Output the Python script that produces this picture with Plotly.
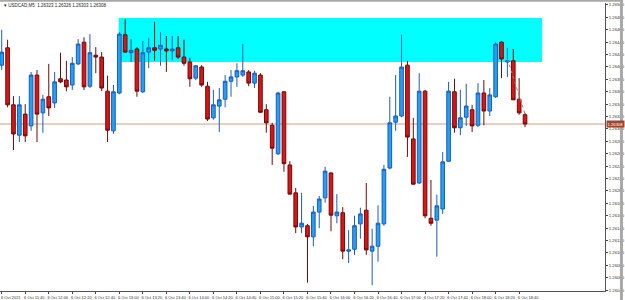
import plotly.graph_objects as go

symbol = "USDCAD,M5"

open_ = [1.26403, 1.26431, 1.26339, 1.26290, 1.26324, 1.26305, 1.26387, 1.26326, 1.26352, 1.26342,
         1.26381, 1.26379, 1.26371, 1.26405, 1.26440, 1.26369, 1.26419, 1.26416, 1.26361, 1.26297,
         1.26358, 1.26452, 1.26423, 1.26429, 1.26360, 1.26424, 1.26431, 1.26429, 1.26429, 1.26426,
         1.26431, 1.26416, 1.26408, 1.26382, 1.26400, 1.26369, 1.26318, 1.26337, 1.26348, 1.26377,
         1.26384, 1.26387, 1.26392, 1.26374, 1.26387, 1.26331, 1.26306, 1.26260, 1.26360, 1.26242,
         1.26197, 1.26142, 1.26144, 1.26126, 1.26166, 1.26189, 1.26229, 1.26160, 1.26165, 1.26103,
         1.26106, 1.26147, 1.26169, 1.26103, 1.26111, 1.26147, 1.26237, 1.26311, 1.26321, 1.26403,
         1.26284, 1.26213, 1.26361, 1.26156, 1.26153, 1.26171, 1.26248, 1.26360, 1.26302, 1.26319,
         1.26331, 1.26306, 1.26358, 1.26329, 1.26352, 1.26440, 1.26408, 1.26410, 1.26348, 1.26323]

high = [1.26460, 1.26444, 1.26353, 1.26353, 1.26340, 1.26392, 1.26395, 1.26355, 1.26405, 1.26392,
        1.26423, 1.26410, 1.26416, 1.26445, 1.26448, 1.26453, 1.26432, 1.26424, 1.26386, 1.26371,
        1.26456, 1.26477, 1.26445, 1.26432, 1.26442, 1.26447, 1.26473, 1.26456, 1.26450, 1.26450,
        1.26450, 1.26444, 1.26415, 1.26403, 1.26403, 1.26376, 1.26363, 1.26366, 1.26387, 1.26395,
        1.26406, 1.26437, 1.26395, 1.26394, 1.26390, 1.26340, 1.26310, 1.26360, 1.26361, 1.26248,
        1.26205, 1.26197, 1.26147, 1.26176, 1.26192, 1.26239, 1.26231, 1.26195, 1.26174, 1.26137,
        1.26160, 1.26173, 1.26213, 1.26139, 1.26177, 1.26242, 1.26352, 1.26387, 1.26452, 1.26410,
        1.26318, 1.26390, 1.26363, 1.26218, 1.26194, 1.26263, 1.26376, 1.26381, 1.26363, 1.26373,
        1.26339, 1.26374, 1.26379, 1.26366, 1.26440, 1.26442, 1.26431, 1.26429, 1.26382, 1.26326]

low = [1.26395, 1.26335, 1.26266, 1.26279, 1.26279, 1.26297, 1.26279, 1.26294, 1.26321, 1.26334,
       1.26374, 1.26361, 1.26363, 1.26403, 1.26363, 1.26366, 1.26390, 1.26361, 1.26279, 1.26292,
       1.26356, 1.26423, 1.26408, 1.26352, 1.26358, 1.26398, 1.26410, 1.26402, 1.26392, 1.26411,
       1.26413, 1.26402, 1.26368, 1.26379, 1.26368, 1.26313, 1.26315, 1.26295, 1.26335, 1.26352,
       1.26368, 1.26384, 1.26369, 1.26366, 1.26326, 1.26294, 1.26242, 1.26258, 1.26231, 1.26194,
       1.26132, 1.26132, 1.26052, 1.26111, 1.26140, 1.26181, 1.26135, 1.26148, 1.26090, 1.26084,
       1.26097, 1.26123, 1.26097, 1.26048, 1.26086, 1.26144, 1.26235, 1.26297, 1.26319, 1.26255,
       1.26210, 1.26211, 1.26156, 1.26144, 1.26094, 1.26163, 1.26247, 1.26294, 1.26290, 1.26305,
       1.26295, 1.26303, 1.26306, 1.26321, 1.26350, 1.26382, 1.26384, 1.26348, 1.26323, 1.26303]

close = [1.26424, 1.26339, 1.26292, 1.26339, 1.26289, 1.26387, 1.26324, 1.26348, 1.26334, 1.26376,
         1.26376, 1.26368, 1.26406, 1.26437, 1.26368, 1.26423, 1.26416, 1.26366, 1.26298, 1.26360,
         1.26453, 1.26424, 1.26427, 1.26361, 1.26423, 1.26431, 1.26427, 1.26435, 1.26426, 1.26429,
         1.26416, 1.26406, 1.26381, 1.26402, 1.26371, 1.26316, 1.26339, 1.26347, 1.26377, 1.26384,
         1.26394, 1.26394, 1.26374, 1.26390, 1.26327, 1.26310, 1.26269, 1.26358, 1.26244, 1.26195,
         1.26142, 1.26148, 1.26126, 1.26166, 1.26187, 1.26232, 1.26161, 1.26166, 1.26103, 1.26105,
         1.26144, 1.26163, 1.26105, 1.26111, 1.26148, 1.26235, 1.26310, 1.26321, 1.26400, 1.26287,
         1.26211, 1.26361, 1.26160, 1.26148, 1.26176, 1.26247, 1.26361, 1.26302, 1.26318, 1.26337,
         1.26305, 1.26358, 1.26329, 1.26355, 1.26437, 1.26413, 1.26410, 1.26347, 1.26326, 1.26308]

bar_index = list(range(len(close)))

time_tick_index = list(range(0, 89, 4))
time_tick_labels = ["6 Oct 2021", "6 Oct 11:40", "6 Oct 12:00", "6 Oct 12:20", "6 Oct 12:40",
                    "6 Oct 13:00", "6 Oct 13:20", "6 Oct 13:40", "6 Oct 14:00", "6 Oct 14:20",
                    "6 Oct 14:40", "6 Oct 15:00", "6 Oct 15:20", "6 Oct 15:40", "6 Oct 16:00",
                    "6 Oct 16:20", "6 Oct 16:40", "6 Oct 17:00", "6 Oct 17:20", "6 Oct 17:40",
                    "6 Oct 18:00", "6 Oct 18:20", "6 Oct 18:40"]

price_ticks = [1.26500, 1.26480, 1.26460, 1.26440, 1.26420, 1.26400, 1.26380, 1.26360,
               1.26340, 1.26320, 1.26300, 1.26280, 1.26260, 1.26240, 1.26220, 1.26200,
               1.26180, 1.26160, 1.26140, 1.26120, 1.26100, 1.26080, 1.26060, 1.26040]
price_tick_labels = ["%.5f" % p for p in price_ticks]

zone_start, zone_end = 19.9, 91.9
zone_top, zone_bottom = 1.26479, 1.26408

last_price = close[-1]
trade_line_x = [86, 89]
trade_line_y = [1.26413, 1.26324]

x_range = [-0.29, 102.6]
y_range = [1.260387, 1.265032]

fig = go.Figure()
fig.add_trace(go.Candlestick(
    x=bar_index, open=open_, high=high, low=low, close=close,
    increasing=dict(fillcolor="#23a0ee", line=dict(color="#1a5cc0", width=1)),
    decreasing=dict(fillcolor="#dc1414", line=dict(color="#6e0b0b", width=1)),
    whiskerwidth=0, showlegend=False, hoverinfo="skip",
))
fig.add_trace(go.Scatter(
    x=trade_line_x, y=trade_line_y, mode="lines",
    line=dict(color="#c07850", width=1, dash="dot"), showlegend=False, hoverinfo="skip"))

fig.add_shape(type="rect", xref="x", yref="y", x0=zone_start, x1=zone_end,
              y0=zone_bottom, y1=zone_top, fillcolor="#00ffff", line=dict(width=0), layer="below")
fig.add_shape(type="line", xref="paper", yref="y", x0=0, x1=1, y0=last_price, y1=last_price,
              line=dict(color="#c9a088", width=1), layer="below")
# window frame
fig.add_shape(type="line", xref="paper", yref="paper", x0=0, x1=1.03, y0=1.0075, y1=1.0075,
              line=dict(color="#a8a8a8", width=2))
fig.add_shape(type="line", xref="paper", yref="paper", x0=1.0272, x1=1.0272, y0=-0.04, y1=1.01,
              line=dict(color="#a8a8a8", width=3))

fig.add_annotation(xref="paper", yref="paper", x=0.003, y=0.993, xanchor="left", yanchor="middle",
                   text="▾ " + symbol + "  1.26323 1.26326 1.26303 1.26308", showarrow=False,
                   font=dict(size=4.5, color="#222", family="Liberation Sans"))
fig.add_annotation(xref="paper", yref="y", x=1.002, y=last_price, xanchor="left", yanchor="middle",
                   text="%.5f" % last_price, showarrow=False, bgcolor="#9a4a2a", borderpad=0.5,
                   font=dict(size=4.2, color="#ffffff", family="Liberation Sans"))

fig.update_layout(
    width=625, height=300,
    margin=dict(l=0, r=18, t=3, b=9),
    paper_bgcolor="white", plot_bgcolor="white",
    showlegend=False,
    boxgap=0.38, boxgroupgap=0.0,
    xaxis=dict(range=x_range, rangeslider=dict(visible=False), showgrid=False, zeroline=False,
               tickmode="array", tickvals=time_tick_index, ticktext=time_tick_labels,
               ticks="outside", ticklen=2, tickcolor="#444", showline=True, linecolor="#555",
               linewidth=1, ticklabelshift=9, ticklabelstandoff=0,
               tickfont=dict(size=4, color="#333", family="Liberation Sans")),
    yaxis=dict(range=y_range, side="right", showgrid=False, zeroline=False,
               tickmode="array", tickvals=price_ticks, ticktext=price_tick_labels,
               ticks="outside", ticklen=2, tickcolor="#444", showline=True, linecolor="#555",
               linewidth=1, ticklabelstandoff=0,
               tickfont=dict(size=4.2, color="#333", family="Liberation Sans")),
)

fig.write_html("out.html")
